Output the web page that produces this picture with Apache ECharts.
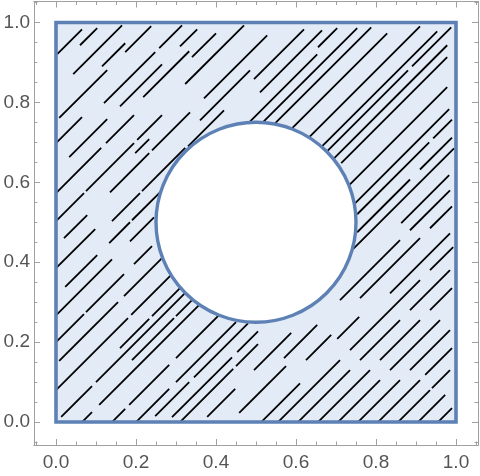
<!DOCTYPE html>
<html>
<head>
<meta charset="utf-8">
<script src="https://cdn.jsdelivr.net/npm/echarts@6/dist/echarts.min.js"></script>
<style>html,body{margin:0;padding:0;background:#fff}#c{width:480px;height:476px}</style>
</head>
<body>
<div id="c"></div>
<script>
// ---- data (all in data units) ----
var majorTicks = [0, 0.2, 0.4, 0.6, 0.8, 1.0];
var minorTicks = [-0.05, 0.05, 0.1, 0.15, 0.25, 0.3, 0.35, 0.45, 0.5, 0.55, 0.65, 0.7, 0.75, 0.85, 0.9, 0.95, 1.05];
var regionBox = [0, 0, 1, 1];          // x0, y0, x1, y1
var holeCircle = [0.5, 0.5, 0.25];     // cx, cy, r
// streamline pieces on the lines y = x - d : [d, xStart, xEnd]
var streamSegments = [
  [-0.918, 0.003, 0.065],
  [-0.883, 0.060, 0.103],
  [-0.828, 0.043, 0.165],
  [-0.775, 0.115, 0.173],
  [-0.753, 0.008, 0.128], [-0.753, 0.173, 0.238],
  [-0.698, 0.000, 0.065],
  [-0.678, 0.120, 0.248], [-0.678, 0.258, 0.315],
  [-0.630, 0.033, 0.128], [-0.630, 0.160, 0.265], [-0.630, 0.310, 0.353],
  [-0.595, 0.218, 0.333],
  [-0.573, 0.000, 0.113], [-0.573, 0.125, 0.195], [-0.573, 0.340, 0.400],
  [-0.523, 0.323, 0.470],
  [-0.503, 0.000, 0.070], [-0.503, 0.075, 0.195], [-0.503, 0.203, 0.265],
  [-0.475, 0.198, 0.233],
  [-0.440, 0.020, 0.078], [-0.440, 0.135, 0.233], [-0.440, 0.240, 0.335], [-0.440, 0.370, 0.528],
  [-0.395, 0.360, 0.485],
  [-0.385, 0.000, 0.098],
  [-0.363, 0.140, 0.210], [-0.363, 0.215, 0.323], [-0.360, 0.330, 0.420], [-0.363, 0.495, 0.620],
  [-0.315, 0.023, 0.103], [-0.315, 0.133, 0.185], [-0.315, 0.190, 0.270], [-0.315, 0.510, 0.665],
  [-0.283, 0.655, 0.703],
  [-0.267, 0.000, 0.140], [-0.267, 0.185, 0.245], [-0.267, 0.478, 0.653],
  [-0.233, 0.515, 0.753],
  [-0.200, 0.000, 0.070], [-0.200, 0.075, 0.170], [-0.200, 0.195, 0.240], [-0.200, 0.545, 0.788],
  [-0.145, 0.008, 0.155], [-0.145, 0.170, 0.270], [-0.145, 0.588, 0.828],
  [-0.080, 0.000, 0.180], [-0.080, 0.188, 0.290], [-0.080, 0.625, 0.910],
  [-0.025, 0.160, 0.233], [-0.025, 0.240, 0.320], [-0.025, 0.663, 0.953],
  [0.000, 0.013, 0.090], [0.000, 0.100, 0.330], [0.000, 0.675, 0.880], [0.000, 0.890, 0.988],
  [0.035, 0.190, 0.295], [0.035, 0.300, 0.350], [0.035, 0.695, 0.978],
  [0.065, 0.065, 0.090], [0.065, 0.108, 0.360], [0.065, 0.713, 0.978],
  [0.140, 0.140, 0.173], [0.140, 0.183, 0.283], [0.140, 0.300, 0.423], [0.140, 0.733, 0.978],
  [0.200, 0.200, 0.283], [0.200, 0.300, 0.450], [0.200, 0.745, 0.983],
  [0.233, 0.248, 0.333], [0.233, 0.345, 0.480], [0.233, 0.753, 0.933], [0.233, 0.943, 0.990],
  [0.278, 0.290, 0.440], [0.278, 0.453, 0.505], [0.278, 0.753, 0.885], [0.278, 0.910, 0.990],
  [0.310, 0.310, 0.443], [0.310, 0.450, 0.505], [0.310, 0.735, 0.995],
  [0.365, 0.378, 0.448], [0.365, 0.495, 0.588], [0.365, 0.863, 0.983],
  [0.410, 0.570, 0.653], [0.405, 0.710, 0.860], [0.405, 0.885, 0.985],
  [0.435, 0.458, 0.575],
  [0.450, 0.760, 0.910], [0.450, 0.935, 0.990],
  [0.470, 0.625, 0.688],
  [0.495, 0.703, 0.758],
  [0.513, 0.513, 0.610], [0.513, 0.835, 0.985],
  [0.555, 0.555, 0.710], [0.555, 0.735, 0.910], [0.555, 0.935, 0.993],
  [0.605, 0.605, 0.735], [0.605, 0.760, 0.860], [0.605, 0.885, 0.985],
  [0.655, 0.655, 0.785], [0.655, 0.810, 0.910], [0.655, 0.935, 0.990],
  [0.705, 0.705, 0.810], [0.705, 0.835, 0.960],
  [0.755, 0.755, 0.860], [0.755, 0.885, 0.985],
  [0.805, 0.805, 0.910], [0.805, 0.923, 0.990],
  [0.855, 0.855, 0.935], [0.855, 0.940, 0.985],
  [0.905, 0.905, 0.973],
  [0.955, 0.955, 0.990]
];

// ---- styles ----
var FRAME = '#a0a0a0', LABEL = '#555555', EDGE = '#5e81b5', FILL = '#e3ebf7';
var XMIN = -0.055, XMAX = 1.055, YMIN = -0.0575, YMAX = 1.0525;

function xAx(pos, ticks, len, labels) {
  return {
    type: 'value', position: pos, min: XMIN, max: XMAX,
    axisLine: {show: true, onZero: false, lineStyle: {color: FRAME, width: 1}},
    axisTick: {show: true, inside: true, length: len, customValues: ticks, lineStyle: {color: FRAME, width: 1}},
    axisLabel: labels ? {show: true, customValues: majorTicks, formatter: function (v) { return (+v).toFixed(1); },
      fontSize: 19, color: LABEL, margin: 8, fontFamily: 'Liberation Sans, Arial, sans-serif'} : {show: false},
    splitLine: {show: false}, minorTick: {show: false}
  };
}
function yAx(pos, ticks, len, labels) {
  return {
    type: 'value', position: pos, min: YMIN, max: YMAX,
    axisLine: {show: true, onZero: false, lineStyle: {color: FRAME, width: 1}},
    axisTick: {show: true, inside: true, length: len, customValues: ticks, lineStyle: {color: FRAME, width: 1}},
    axisLabel: labels ? {show: true, customValues: majorTicks, formatter: function (v) { return (+v).toFixed(1); },
      fontSize: 19, color: LABEL, margin: 4, fontFamily: 'Liberation Sans, Arial, sans-serif'} : {show: false},
    splitLine: {show: false}, minorTick: {show: false}
  };
}

var chart = echarts.init(document.getElementById('c'), null, {renderer: 'canvas'});
chart.setOption({
  animation: false,
  backgroundColor: '#ffffff',
  grid: {left: 34, right: 2, top: 1.5, bottom: 31, containLabel: false},
  xAxis: [xAx('bottom', majorTicks, 6, true), xAx('top', majorTicks, 6, false),
          xAx('bottom', minorTicks, 3.5, false), xAx('top', minorTicks, 3.5, false)],
  yAxis: [yAx('left', majorTicks, 6, true), yAx('right', majorTicks, 6, false),
          yAx('left', minorTicks, 3.5, false), yAx('right', minorTicks, 3.5, false)],
  series: [
    { // region fill
      type: 'custom', coordinateSystem: 'cartesian2d', z: 1, silent: true,
      data: [regionBox],
      renderItem: function (params, api) {
        var a = api.coord([api.value(0), api.value(1)]), b = api.coord([api.value(2), api.value(3)]);
        return {type: 'rect', shape: {x: a[0], y: b[1], width: b[0] - a[0], height: a[1] - b[1]},
                style: {fill: FILL, stroke: null}};
      }
    },
    { // streamlines
      type: 'custom', coordinateSystem: 'cartesian2d', z: 2, silent: true,
      data: streamSegments,
      renderItem: function (params, api) {
        var d = api.value(0), x0 = api.value(1), x1 = api.value(2);
        var xa = Math.max(x0, 0, d), xb = Math.min(x1, 1, 1 + d);
        if (xb <= xa) return null;
        var p = api.coord([xa, xa - d]), q = api.coord([xb, xb - d]);
        return {type: 'line', shape: {x1: p[0], y1: p[1], x2: q[0], y2: q[1]},
                style: {stroke: '#000', lineWidth: 1.8, lineCap: 'butt'}};
      }
    },
    { // hole
      type: 'custom', coordinateSystem: 'cartesian2d', z: 3, silent: true,
      data: [holeCircle],
      renderItem: function (params, api) {
        var c = api.coord([api.value(0), api.value(1)]);
        var r = api.size([api.value(2), 0])[0];
        return {type: 'circle', shape: {cx: c[0], cy: c[1], r: r},
                style: {fill: '#ffffff', stroke: EDGE, lineWidth: 3.4}};
      }
    },
    { // region edge
      type: 'custom', coordinateSystem: 'cartesian2d', z: 4, silent: true,
      data: [regionBox],
      renderItem: function (params, api) {
        var a = api.coord([api.value(0), api.value(1)]), b = api.coord([api.value(2), api.value(3)]);
        return {type: 'rect', shape: {x: a[0], y: b[1], width: b[0] - a[0], height: a[1] - b[1]},
                style: {fill: null, stroke: EDGE, lineWidth: 3.6}};
      }
    }
  ]
});
</script>
</body>
</html>
